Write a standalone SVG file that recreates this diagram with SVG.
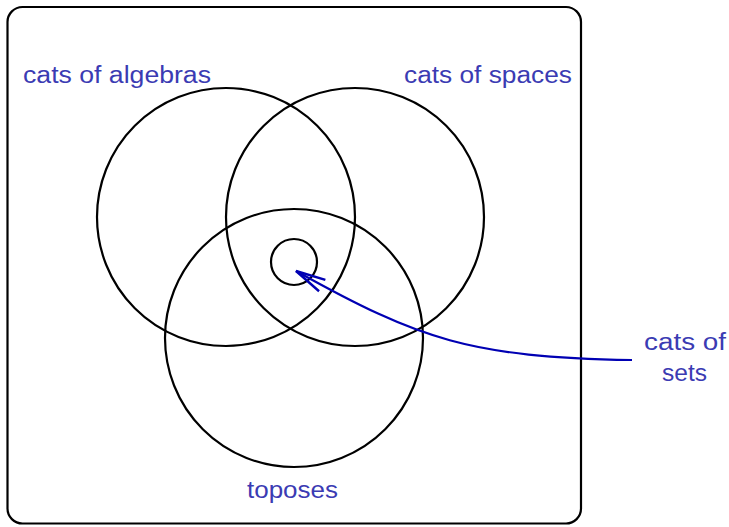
<svg xmlns="http://www.w3.org/2000/svg" width="729" height="527" viewBox="0 0 729 527">
<defs>
<style>
.c{fill:none;stroke:#000;stroke-width:2.2}
.t{font-family:"Liberation Sans",Arial,sans-serif;font-size:23px;fill:#3b3bb3}
.a{fill:none;stroke:#0000b3;stroke-width:2.2}
</style>
<marker id="ah" viewBox="0 0 34 20" refX="32" refY="10" markerWidth="34" markerHeight="20" markerUnits="userSpaceOnUse" orient="auto">
<path d="M2,3.5 L32,10 L2,16.5" fill="none" stroke="#0000b3" stroke-width="2.4"/>
</marker>
</defs>
<g id="frame"><rect class="c" x="7.5" y="7" width="573.5" height="516.5" rx="15"/></g>
<g id="algebras"><circle class="c" cx="226" cy="217" r="129"/></g>
<g id="spaces"><circle class="c" cx="355" cy="217" r="129"/></g>
<g id="toposes"><circle class="c" cx="294" cy="338" r="129"/></g>
<g id="sets"><circle class="c" cx="294" cy="262" r="23"/></g>
<g id="connectors"><path class="a" d="M632,360 C470,357 420,340 296,271" marker-end="url(#ah)"/></g>
<g id="labels">
<text class="t" x="23" y="83" textLength="188" lengthAdjust="spacingAndGlyphs">cats of algebras</text>
<text class="t" x="404" y="83" textLength="168" lengthAdjust="spacingAndGlyphs">cats of spaces</text>
<text class="t" x="247" y="498" textLength="91" lengthAdjust="spacingAndGlyphs">toposes</text>
<text class="t" x="644" y="350" textLength="82" lengthAdjust="spacingAndGlyphs">cats of</text>
<text class="t" x="662" y="381" textLength="45" lengthAdjust="spacingAndGlyphs">sets</text>
</g>
</svg>
